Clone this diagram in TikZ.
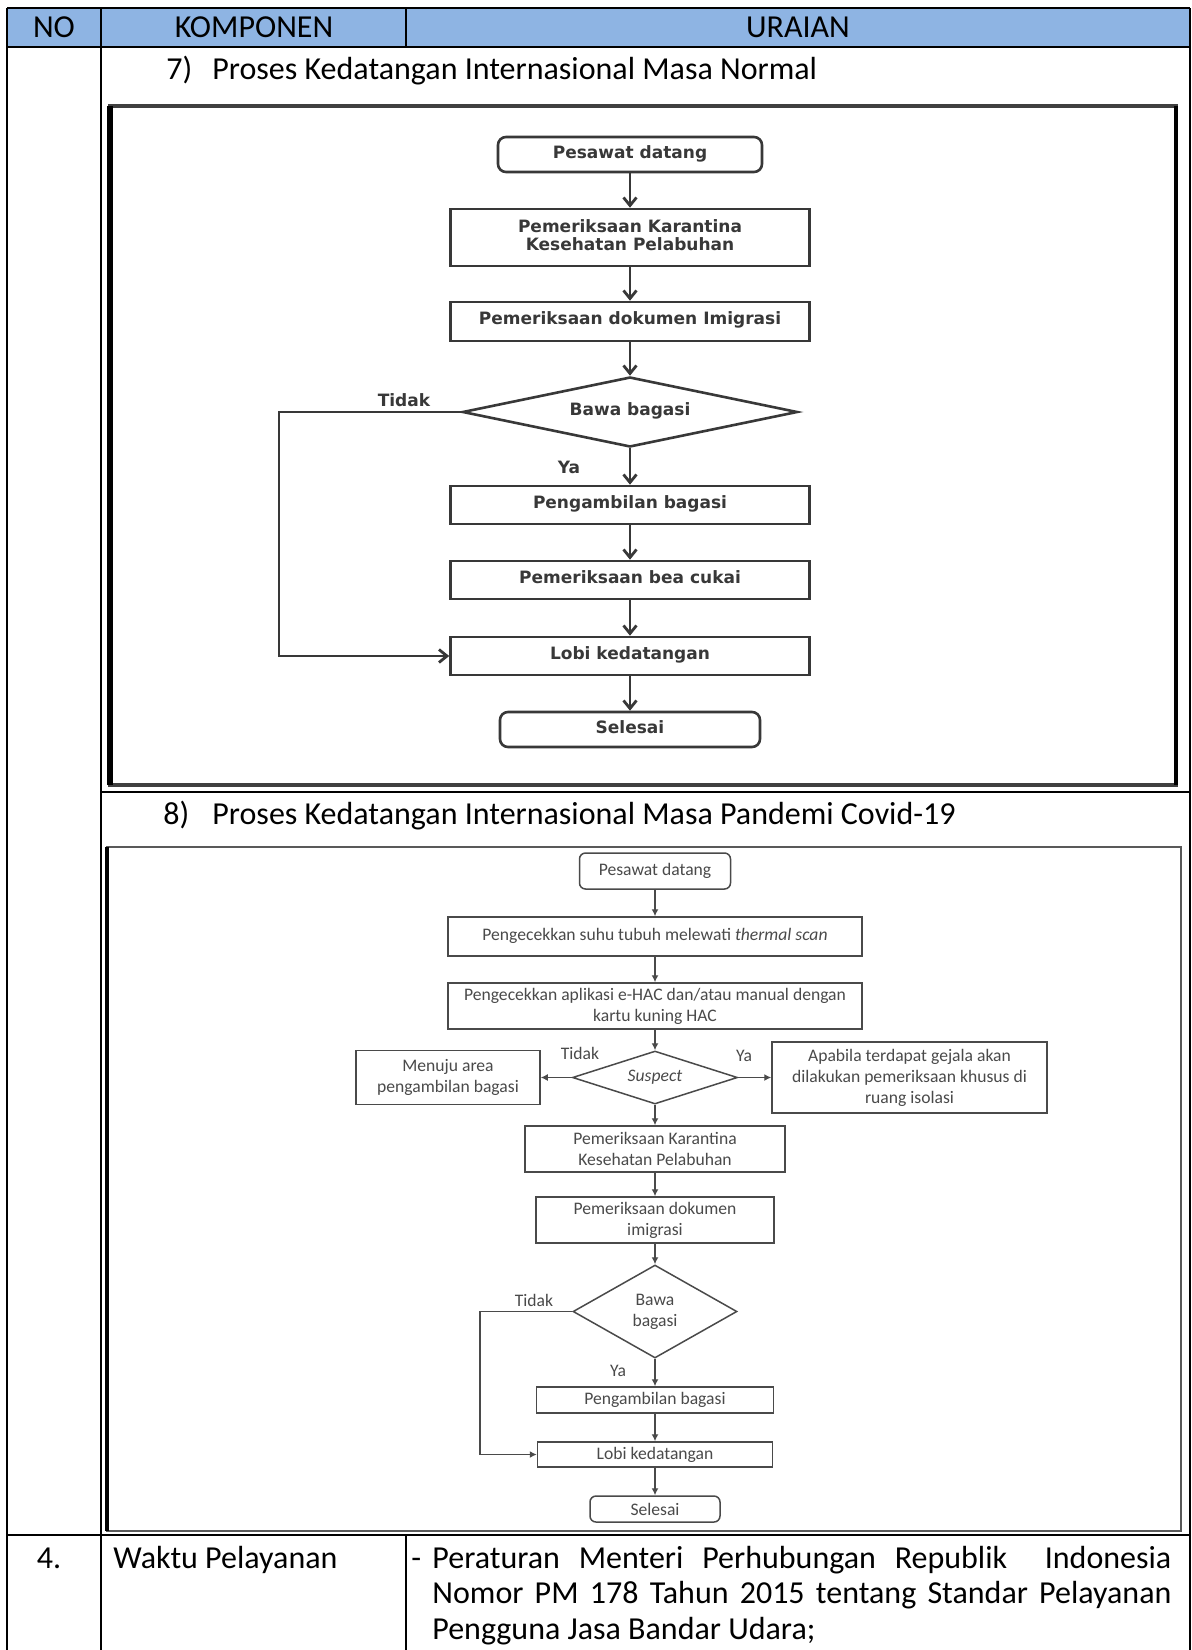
\documentclass[tikz,border=0pt]{standalone}
\usepackage{fontspec}
\setmainfont{Carlito}
\newfontfamily\fcfont{DejaVu Sans}
\usetikzlibrary{shapes.geometric,arrows.meta}
\definecolor{headblue}{RGB}{142,180,227}
\definecolor{inkA}{HTML}{383838}
\definecolor{inkB}{HTML}{4A4A4A}
% text block lifted a little above the box centre
\newcommand\liftup[2][3pt]{\raisebox{#1}{\begin{tabular}{@{}c@{}}#2\end{tabular}}}

\begin{document}
\begin{tikzpicture}[x=0.5pt,y=-0.5pt,
  wh/.style 2 args={minimum width=#1*0.5pt,minimum height=#2*0.5pt},
  tablerule/.style={line width=1.1pt,black},
  celltext/.style={inner sep=0pt,font=\fontsize{16}{18}\selectfont},
  boxA/.style={draw=inkA,line width=1.3pt,inner sep=0pt,text=inkA,font=\fcfont\bfseries\fontsize{8.5}{9}\selectfont},
  termA/.style={boxA,rounded corners=4pt},
  decA/.style={boxA,diamond,aspect=4.8},
  labA/.style={inner sep=0pt,text=inkA,font=\fcfont\bfseries\fontsize{8.5}{9}\selectfont},
  flowA/.style={draw=inkA,line width=1.4pt,-{Straight Barb[length=4pt,width=6.5pt]}},
  boxB/.style={draw=inkB,line width=0.75pt,inner sep=0pt,align=center,text=inkB,font=\fontsize{8.8}{10.5}\selectfont},
  termB/.style={boxB,rounded corners=3pt},
  decB/.style={boxB,diamond,aspect=2},
  labB/.style={inner sep=0pt,text=inkB,font=\fontsize{8.8}{10.5}\selectfont},
  flowB/.style={draw=inkB,line width=0.7pt,-{Latex[length=3.5pt,width=3.5pt]}},
]
\useasboundingbox (0,0) rectangle (1192,1650);
\fill[white] (0,0) rectangle (1192,1650);

% ---------- table ----------
\fill[headblue] (7,8) rectangle (1190,47);
\draw[tablerule] (7,8) -- (1190,8);
\draw[tablerule] (7,47) -- (1190,47);
\draw[tablerule] (7,8) -- (7,1650);
\draw[tablerule] (1190,8) -- (1190,1650);
\draw[tablerule] (101,8) -- (101,1650);
\draw[tablerule] (406,8) -- (406,47);
\draw[tablerule] (101,792) -- (1190,792);
\draw[tablerule] (7,1535) -- (1190,1535);
\draw[tablerule] (406,1535) -- (406,1650);

\node[celltext] (hno)  at (54,27.5)  {NO};
\node[celltext] (hkom) at (254,27.5) {KOMPONEN};
\node[celltext] (hura) at (798,27.5) {URAIAN};

\node[celltext,anchor=base west] (sec7) at (166,79)
  {\makebox[23pt][l]{7)}Proses Kedatangan Internasional Masa Normal};
\node[celltext,anchor=base west] (sec8) at (163,824)
  {\makebox[24.5pt][l]{8)}Proses Kedatangan Internasional Masa Pandemi Covid-19};

\node[celltext,anchor=base] (num4) at (49,1568) {4.};
\node[celltext,anchor=base west] (wkt) at (113,1568) {Waktu Pelayanan};
\node[celltext,anchor=base west] (ur1) at (411,1568)
  {\makebox[10.5pt][l]{-}\makebox[369.5pt][s]{Peraturan Menteri Perhubungan Republik\ \ Indonesia}};
\node[celltext,anchor=base west] (ur2) at (432,1603)
  {\makebox[369.5pt][s]{Nomor PM 178 Tahun 2015 tentang Standar Pelayanan}};
\node[celltext,anchor=base west] (ur3) at (432,1639) {Pengguna Jasa Bandar Udara;};

% ---------- flowchart: normal period ----------
\draw[line width=1.6pt,draw=black!75] (110,106) rectangle (1176,785);
\draw[line width=2.8pt,black] (110,106) -- (110,785);
\draw[line width=2.2pt,black] (1176,106) -- (1176,785);

\node[termA,wh={264}{35}] (p1) at (630,154.5) {\liftup[1.5pt]{Pesawat datang}};
\node[boxA,wh={359}{57}]  (k1) at (630,237.5) {\liftup{Pemeriksaan Karantina\\Kesehatan Pelabuhan}};
\node[boxA,wh={359}{39}]  (d1) at (630,321.5) {\liftup{Pemeriksaan dokumen Imigrasi}};
\node[decA,wh={335}{70}]  (b1) at (630,412)   {\liftup{Bawa bagasi}};
\node[boxA,wh={359}{38}]  (g1) at (630,505)   {\liftup{Pengambilan bagasi}};
\node[boxA,wh={359}{38}]  (c1) at (630,580)   {\liftup{Pemeriksaan bea cukai}};
\node[boxA,wh={359}{38}]  (l1) at (630,656)   {\liftup{Lobi kedatangan}};
\node[termA,wh={260}{35}] (s1) at (630,729.5) {\liftup[1.5pt]{Selesai}};

\coordinate (t1) at (279,412);
\draw[flowA] (p1) -- (k1);
\draw[flowA] (k1) -- (d1);
\draw[flowA] (d1) -- (b1);
\draw[flowA] (b1) -- (g1);
\draw[flowA] (g1) -- (c1);
\draw[flowA] (c1) -- (l1);
\draw[flowA] (l1) -- (s1);
\draw[flowA] (b1.west) -- (t1) |- (l1.west);

\node[labA] (no1)  at (404,400) {Tidak};
\node[labA] (yes1) at (569,467) {Ya};

% ---------- flowchart: pandemic period ----------
\draw[line width=1.1pt,draw=black!65] (107,847) rectangle (1181,1531);
\draw[line width=2.2pt,black] (107,847) -- (107,1531);

\node[termB,wh={151}{36}] (p2) at (655,871)    {Pesawat datang};
\node[boxB,wh={414}{39}]  (t2) at (655,936.5)  {\raisebox{2pt}{Pengecekkan suhu tubuh melewati \textit{thermal scan}}};
\node[boxB,wh={414}{46}]  (h2) at (655,1006)   {Pengecekkan aplikasi e-HAC dan/atau manual dengan\\kartu kuning HAC};
\node[decB,wh={165}{53}]  (s2) at (655,1077.5) {\textit{Suspect}};
\node[boxB,wh={184}{54}]  (m2) at (448,1077.5) {Menuju area\\pengambilan bagasi};
\node[boxB,wh={275}{71}]  (a2) at (909.5,1077.5) {Apabila terdapat gejala akan\\dilakukan pemeriksaan khusus di\\ruang isolasi};
\node[boxB,wh={260}{46}]  (k2) at (655,1149)   {Pemeriksaan Karantina\\Kesehatan Pelabuhan};
\node[boxB,wh={238}{46}]  (d2) at (655,1220)   {Pemeriksaan dokumen\\imigrasi};
\node[decB,wh={164}{93}]  (b2) at (655,1311.5) {Bawa\\bagasi};
\node[boxB,wh={237}{26}]  (g2) at (655,1400)   {Pengambilan bagasi};
\node[boxB,wh={235}{25}]  (l2) at (655,1454.5) {Lobi kedatangan};
\node[termB,wh={130}{26}] (e2) at (655,1509)   {Selesai};

\coordinate (t2c) at (480,1311.5);
\draw[flowB] (p2) -- (t2);
\draw[flowB] (t2) -- (h2);
\draw[flowB] (h2) -- (s2);
\draw[flowB] (s2) -- (m2);
\draw[flowB] (s2) -- (a2);
\draw[flowB] (s2) -- (k2);
\draw[flowB] (k2) -- (d2);
\draw[flowB] (d2) -- (b2);
\draw[flowB] (b2) -- (g2);
\draw[flowB] (g2) -- (l2);
\draw[flowB] (l2) -- (e2);
\draw[flowB] (b2.west) -- (t2c) |- (l2.west);

\node[labB] (no2)  at (580,1053) {Tidak};
\node[labB] (yes2) at (744,1056) {Ya};
\node[labB] (no3)  at (534,1300) {Tidak};
\node[labB] (yes3) at (618,1371) {Ya};
\end{tikzpicture}
\end{document}
